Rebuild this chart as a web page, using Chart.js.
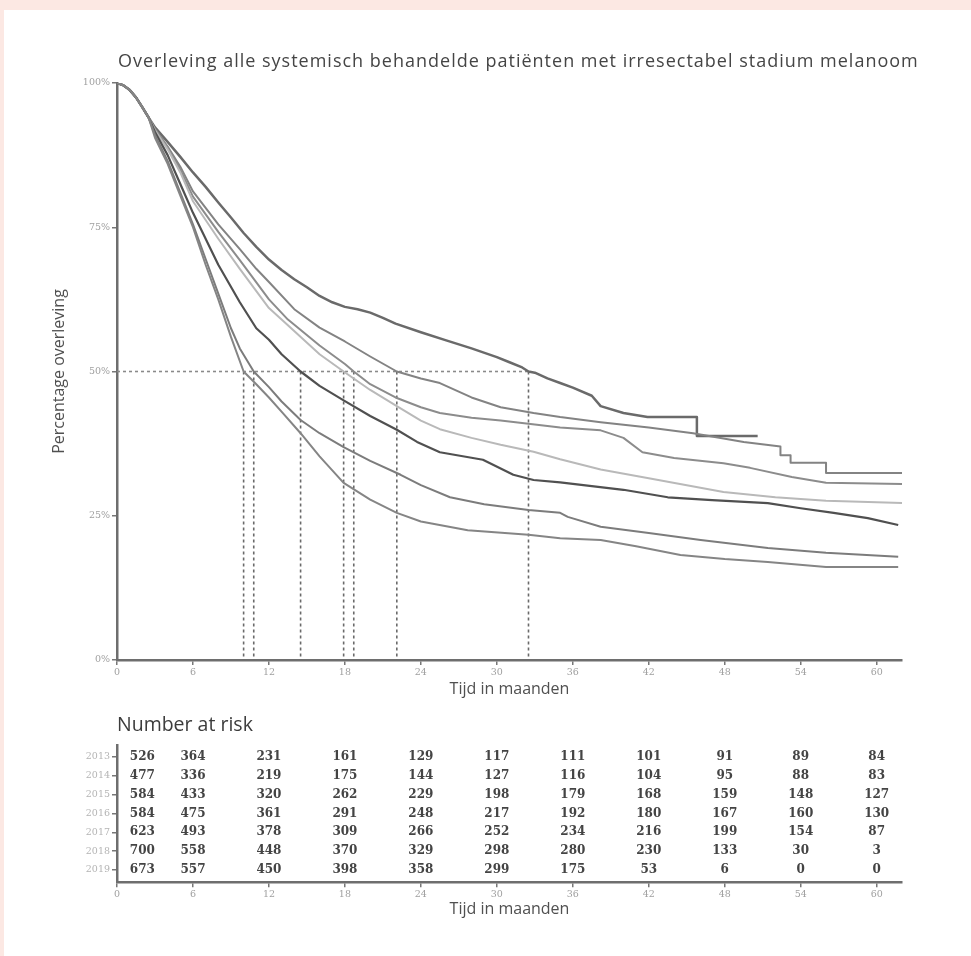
<!DOCTYPE html>
<html>
<head>
<meta charset="utf-8">
<script src="https://cdn.jsdelivr.net/npm/chart.js@4.4.1/dist/chart.umd.min.js"></script>
<style>
  html, body { margin: 0; padding: 0; }
  body { width: 971px; height: 956px; background: #fce8e3; position: relative; overflow: hidden; }
  #sheet { position: absolute; left: 4px; top: 10px; right: 0; bottom: 0; background: #fff; }
  canvas { position: absolute; left: 0; }
  #surv { top: 0; }
  #risk { top: 700px; }
</style>
</head>
<body>
<div id="sheet"></div>
<canvas id="surv" width="971" height="700"></canvas>
<canvas id="risk" width="971" height="256"></canvas>
<script>
// survival curves: months / percent surviving
const t2019 = [0, 0.5, 1, 1.5, 2, 2.5, 3, 4, 5, 6, 7, 8, 9, 10, 11, 12, 13, 14, 15, 16, 17, 18, 19, 20, 21, 22, 24, 26, 28, 30, 31, 32, 32.5, 33, 34, 35, 36, 37.5, 38.2, 40, 41.9, 45.8, 45.8, 50.6];
const s2019 = [100, 99.6, 98.8, 97.5, 95.8, 94, 92.3, 89.8, 87.2, 84.5, 82, 79.3, 76.7, 74, 71.6, 69.4, 67.6, 66, 64.6, 63.1, 62, 61.2, 60.8, 60.2, 59.3, 58.3, 56.8, 55.4, 54, 52.5, 51.6, 50.7, 50, 49.8, 48.8, 48, 47.2, 45.8, 44, 42.8, 42.1, 42.1, 38.8, 38.8];

const t2018 = [0, 0.5, 1, 1.5, 2, 2.5, 3, 4, 5, 6, 8, 9.7, 11, 12, 14, 16, 18, 20, 22.1, 24, 25.5, 28, 30.3, 32.9, 35, 38.2, 42, 45.5, 49.5, 52.4, 52.4, 53.2, 53.2, 54.2, 54.2, 56, 56, 62];
const s2018 = [100, 99.6, 98.8, 97.5, 95.8, 94, 92, 89, 85.5, 81.2, 75.5, 71.2, 67.8, 65.5, 60.8, 57.6, 55.2, 52.6, 50, 48.8, 48, 45.5, 43.8, 42.8, 42.1, 41.2, 40.3, 39.3, 37.8, 37, 35.5, 35.5, 34.2, 34.2, 34.2, 34.2, 32.4, 32.4];

const t2017 = [0, 0.5, 1, 1.5, 2, 2.5, 3, 4, 5, 6, 8, 9.7, 12, 13.5, 16, 18, 18.7, 20, 22, 24, 25.5, 28, 30.3, 33, 35, 38.2, 40, 41.5, 44, 47.9, 50, 53.3, 56, 62];
const s2017 = [100, 99.6, 98.8, 97.5, 95.8, 94, 92, 88.8, 85, 80.3, 74.2, 69.3, 62.5, 59, 54.5, 51.3, 50, 47.8, 45.5, 43.8, 42.8, 42, 41.5, 40.8, 40.3, 39.8, 38.5, 36, 35, 34.1, 33.3, 31.7, 30.7, 30.5];

const t2016 = [0, 0.5, 1, 1.5, 2, 2.5, 3, 4, 5, 6, 8, 9.7, 12, 13, 16, 17.9, 20, 22.1, 24, 25.5, 28, 30.3, 32.9, 35, 38.2, 42, 47.9, 52, 56, 62];
const s2016 = [100, 99.6, 98.8, 97.5, 95.8, 94, 91.8, 88.5, 84.5, 79.5, 73, 67.8, 61, 59, 53, 50, 46.8, 44, 41.5, 40, 38.5, 37.3, 36.1, 34.8, 33, 31.5, 29.1, 28.2, 27.6, 27.2];

const t2015 = [0, 0.5, 1, 1.5, 2, 2.5, 3, 4, 5, 6, 8, 9.7, 11, 12, 13, 14.5, 16, 17.9, 20, 22.1, 23.7, 25.5, 28.9, 31.3, 32.9, 35, 40, 43.5, 47, 51.4, 54, 56.6, 59.3, 61.7];
const s2015 = [100, 99.6, 98.8, 97.5, 95.8, 94, 91.5, 87.5, 82.5, 77.5, 68.5, 62, 57.5, 55.5, 53, 50, 47.5, 45, 42.3, 39.9, 37.8, 36, 34.7, 32.1, 31.2, 30.8, 29.5, 28.2, 27.7, 27.2, 26.3, 25.5, 24.6, 23.4];

const t2014 = [0, 0.5, 1, 1.5, 2, 2.5, 3, 4, 5, 6, 7, 8, 9, 9.7, 10.8, 12, 13, 14.5, 16, 17.9, 20, 22.4, 24, 26.3, 29, 32.5, 35, 35.6, 38.2, 42, 46.1, 51.4, 56, 61.7];
const s2014 = [100, 99.6, 98.8, 97.5, 95.8, 94, 91, 86.5, 81, 75.5, 69.5, 63.5, 57.5, 54, 50, 47.3, 44.8, 41.6, 39.3, 36.9, 34.5, 32.1, 30.3, 28.2, 27, 26, 25.5, 24.8, 23.1, 22, 20.8, 19.4, 18.6, 17.9];

const t2013 = [0, 0.5, 1, 1.5, 2, 2.5, 3, 4, 5, 6, 7, 8, 9, 10, 11, 12, 13.1, 14.5, 16, 17.9, 20, 22.1, 24, 27.7, 32.5, 35, 38.2, 41, 44.5, 48, 51.4, 56, 61.7];
const s2013 = [100, 99.6, 98.8, 97.5, 95.8, 94, 90.5, 86, 80.5, 75, 68.5, 62.5, 56, 50, 47.8, 45.5, 42.8, 39.3, 35.3, 30.7, 27.8, 25.5, 24, 22.5, 21.7, 21.1, 20.8, 19.7, 18.2, 17.5, 17, 16.1, 16.1];

// median survival (months) per cohort, where the dashed lines drop
const medians = [10.0, 10.8, 14.5, 17.9, 18.7, 22.1, 32.5];

const xTicks = [0, 6, 12, 18, 24, 30, 36, 42, 48, 54, 60];
const yTicks = [0, 25, 50, 75, 100];

// number at risk table
const years = ['2013', '2014', '2015', '2016', '2017', '2018', '2019'];
const riskCols = [0, 6, 12, 18, 24, 30, 36, 42, 48, 54, 60];
const risk2013 = [526, 364, 231, 161, 129, 117, 111, 101, 91, 89, 84];
const risk2014 = [477, 336, 219, 175, 144, 127, 116, 104, 95, 88, 83];
const risk2015 = [584, 433, 320, 262, 229, 198, 179, 168, 159, 148, 127];
const risk2016 = [584, 475, 361, 291, 248, 217, 192, 180, 167, 160, 130];
const risk2017 = [623, 493, 378, 309, 266, 252, 234, 216, 199, 154, 87];
const risk2018 = [700, 558, 448, 370, 329, 298, 280, 230, 133, 30, 3];
const risk2019 = [673, 557, 450, 398, 358, 299, 175, 53, 6, 0, 0];
const riskRows = [risk2013, risk2014, risk2015, risk2016, risk2017, risk2018, risk2019];

const titleText = 'Overleving alle systemisch behandelde patiënten met irresectabel stadium melanoom';

const pts = (t, s) => t.map((m, i) => ({ x: m, y: s[i] }));

function curve(label, t, s, color, width) {
  return {
    label: label, data: pts(t, s), borderColor: color, borderWidth: width,
    pointRadius: 0, tension: 0, borderJoinStyle: 'round', order: 1
  };
}

const dashed = [{
  label: 'mediaan', data: [{ x: 0, y: 50 }, { x: Math.max(...medians), y: 50 }],
  borderColor: '#8a8a8a', borderWidth: 1.6, borderDash: [3, 3], pointRadius: 0, order: 2
}];
medians.forEach(m => {
  dashed.push({
    label: 'mediaan ' + m, data: [{ x: m, y: 50 }, { x: m, y: 0 }],
    borderColor: '#6a6a6a', borderWidth: 1.6, borderDash: [3, 3], pointRadius: 0, order: 2
  });
});

const tickFont = { family: 'DejaVu Serif', size: 9.5 };
const axisTitleFont = { family: 'Open Sans', size: 16 };

const titlePlugin = {
  id: 'pageTitle',
  afterDraw(chart) {
    const ctx = chart.ctx;
    ctx.save();
    ctx.font = '18px "Open Sans"';
    ctx.letterSpacing = '1px';
    ctx.fillStyle = '#454545';
    ctx.textBaseline = 'middle';
    ctx.fillText(titleText, 118, 62, 804);
    ctx.restore();
  }
};

new Chart(document.getElementById('surv'), {
  type: 'line',
  data: {
    datasets: [
      curve('2013', t2013, s2013, '#858585', 2),
      curve('2014', t2014, s2014, '#7c7c7c', 2),
      curve('2015', t2015, s2015, '#505050', 2.2),
      curve('2016', t2016, s2016, '#b9b9b9', 2),
      curve('2017', t2017, s2017, '#8c8c8c', 2),
      curve('2018', t2018, s2018, '#838383', 2),
      curve('2019', t2019, s2019, '#6a6a6a', 2.5)
    ].concat(dashed)
  },
  options: {
    responsive: false,
    animation: false,
    layout: { padding: { top: 83, right: 69, left: 0, bottom: 0 } },
    plugins: { legend: { display: false }, tooltip: { enabled: false } },
    scales: {
      x: {
        type: 'linear', min: 0, max: 62,
        afterBuildTicks: s => { s.ticks = xTicks.map(v => ({ value: v })); },
        afterFit: s => { s.height = 40; },
        grid: { drawOnChartArea: false, tickLength: 5, color: '#777', lineWidth: 1.5 },
        border: { color: '#6e6e6e', width: 2.5 },
        ticks: { font: tickFont, color: '#a0a0a0', padding: 2, maxRotation: 0 },
        title: { display: true, text: 'Tijd in maanden', font: axisTitleFont, color: '#505050', padding: { top: 0, bottom: 1 } }
      },
      y: {
        type: 'linear', min: 0, max: 100,
        afterBuildTicks: s => { s.ticks = yTicks.map(v => ({ value: v })); },
        afterFit: s => { s.width = 117; },
        grid: { drawOnChartArea: false, tickLength: 5, color: '#777', lineWidth: 1.5 },
        border: { color: '#6e6e6e', width: 2.5 },
        ticks: { font: tickFont, color: '#a0a0a0', padding: 2, callback: v => v + '%' },
        title: { display: true, text: 'Percentage overleving', font: axisTitleFont, color: '#505050', padding: { top: 50, bottom: 0 } }
      }
    }
  },
  plugins: [titlePlugin]
});

const riskPlugin = {
  id: 'riskTable',
  afterDraw(chart) {
    const ctx = chart.ctx;
    const xs = chart.scales.x, ys = chart.scales.y;
    ctx.save();
    ctx.font = '19.5px "Open Sans"';
    ctx.fillStyle = '#3c3c3c';
    ctx.textBaseline = 'middle';
    ctx.fillText('Number at risk', 117, 25);
    ctx.font = 'bold 12px "DejaVu Serif"';
    ctx.fillStyle = '#444';
    ctx.textAlign = 'center';
    riskRows.forEach((row, i) => {
      const y = ys.getPixelForValue(i);
      row.forEach((n, j) => {
        // first column is moved off the axis line, as in the original
        const m = j === 0 ? riskCols[j] + 2 : riskCols[j];
        ctx.fillText(String(n), xs.getPixelForValue(m), y);
      });
    });
    ctx.restore();
  }
};

new Chart(document.getElementById('risk'), {
  type: 'line',
  data: { datasets: [] },
  options: {
    responsive: false,
    animation: false,
    layout: { padding: { top: 45.7, right: 69, left: 0, bottom: 33.8 } },
    plugins: { legend: { display: false }, tooltip: { enabled: false } },
    scales: {
      x: {
        type: 'linear', min: 0, max: 62,
        afterBuildTicks: s => { s.ticks = riskCols.map(v => ({ value: v })); },
        afterFit: s => { s.height = 40; },
        grid: { drawOnChartArea: false, tickLength: 5, color: '#777', lineWidth: 1.5 },
        border: { color: '#6e6e6e', width: 2.5 },
        ticks: { font: tickFont, color: '#a0a0a0', padding: 2, maxRotation: 0 },
        title: { display: true, text: 'Tijd in maanden', font: axisTitleFont, color: '#505050', padding: { top: 0, bottom: 3.5 } }
      },
      y: {
        type: 'linear', min: -0.6, max: 6.65, reverse: true,
        afterBuildTicks: s => { s.ticks = years.map((y, i) => ({ value: i })); },
        afterFit: s => { s.width = 117; },
        grid: { drawOnChartArea: false, tickLength: 5, color: '#777', lineWidth: 1.5 },
        border: { color: '#6e6e6e', width: 2.5 },
        ticks: { font: tickFont, color: '#b4b4b4', padding: 2, callback: v => years[v] }
      }
    }
  },
  plugins: [riskPlugin]
});
</script>
</body>
</html>
